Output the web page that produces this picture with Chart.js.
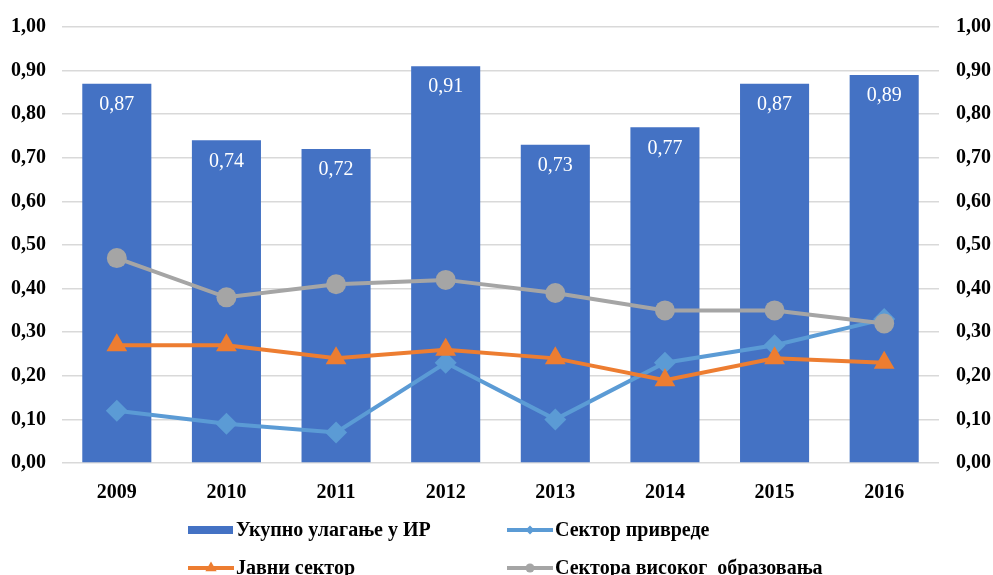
<!DOCTYPE html>
<html><head><meta charset="utf-8">
<script src="https://cdn.jsdelivr.net/npm/chart.js@4/dist/chart.umd.min.js"></script>
<style>html,body{margin:0;padding:0;background:#fff}#wrap{width:993px;height:575px;position:relative;overflow:hidden}</style>
</head><body><div id="wrap"><canvas id="c" width="993" height="575"></canvas></div>
<script>
const categories = ['2009','2010','2011','2012','2013','2014','2015','2016'];
const totalRD = [0.87,0.74,0.72,0.91,0.73,0.77,0.87,0.89];
const businessSector = [0.12,0.09,0.07,0.23,0.10,0.23,0.27,0.33];
const publicSector = [0.27,0.27,0.24,0.26,0.24,0.19,0.24,0.23];
const higherEducation = [0.47,0.38,0.41,0.42,0.39,0.35,0.35,0.32];
const seriesLabels = ['Укупно улагање у ИР','Сектор привреде','Јавни сектор','Сектора високог  образовања'];
const yMin = 0, yMax = 1, yStep = 0.1;

const fmt = v => Number(v).toFixed(2).replace('.', ',');
const FONT = 'Liberation Serif';

const barLabels = {
  id: 'barLabels',
  afterDatasetsDraw(chart) {
    const meta = chart.getDatasetMeta(0);
    const ctx = chart.ctx;
    ctx.save();
    ctx.fillStyle = '#ffffff';
    ctx.font = '20px "' + FONT + '"';
    ctx.textAlign = 'center';
    ctx.textBaseline = 'middle';
    meta.data.forEach((el, i) => {
      ctx.fillText(fmt(chart.data.datasets[0].data[i]), el.x, el.y + 21);
    });
    ctx.restore();
  }
};

const customLegend = {
  id: 'customLegend',
  afterDraw(chart) {
    const ctx = chart.ctx;
    const slots = [{x:188,y:530},{x:507,y:530},{x:188,y:568},{x:507,y:568}];
    ctx.save();
    ctx.font = 'bold 20px "' + FONT + '"';
    ctx.textBaseline = 'middle';
    ctx.textAlign = 'left';
    chart.data.datasets.forEach((ds, i) => {
      const s = slots[i];
      if (ds.type === 'bar') {
        ctx.fillStyle = ds.backgroundColor;
        ctx.fillRect(s.x, s.y - 4, 45, 8);
      } else {
        ctx.strokeStyle = ds.borderColor;
        ctx.lineWidth = 4;
        ctx.beginPath();
        ctx.moveTo(s.x, s.y); ctx.lineTo(s.x + 46, s.y); ctx.stroke();
        ctx.fillStyle = ds.borderColor;
        const r = ds.pointStyle === 'triangle' ? 6.5 : 4.5;
        Chart.helpers.drawPoint(ctx, {pointStyle: ds.pointStyle, radius: r, borderWidth: 0}, s.x + 23, s.y);
      }
      ctx.fillStyle = '#000';
      ctx.fillText(ds.label, s.x + 48, s.y + 1);
    });
    ctx.restore();
  }
};

const tickFont = {family: FONT, size: 20, weight: 'bold'};
const yTickFont = {family: FONT, size: 20, weight: 'bold', lineHeight: 1};

new Chart(document.getElementById('c'), {
  data: {
    labels: categories,
    datasets: [
      {type:'bar', label: seriesLabels[0], data: totalRD, backgroundColor:'#4472C4', borderWidth:0,
       barPercentage:0.63, categoryPercentage:1, order:4, yAxisID:'y'},
      {type:'line', label: seriesLabels[1], data: businessSector, borderColor:'#5B9BD5', backgroundColor:'#5B9BD5',
       borderWidth:4, pointStyle:'rectRot', pointRadius:11, pointBorderWidth:0, pointBackgroundColor:'#5B9BD5', order:3, yAxisID:'y'},
      {type:'line', label: seriesLabels[2], data: publicSector, borderColor:'#ED7D31', backgroundColor:'#ED7D31',
       borderWidth:4, pointStyle:'triangle', pointRadius:12, pointBorderWidth:0, pointBackgroundColor:'#ED7D31', order:2, yAxisID:'y'},
      {type:'line', label: seriesLabels[3], data: higherEducation, borderColor:'#A5A5A5', backgroundColor:'#A5A5A5',
       borderWidth:4, pointStyle:'circle', pointRadius:10, pointBorderWidth:0, pointBackgroundColor:'#A5A5A5', order:1, yAxisID:'y'}
    ]
  },
  options: {
    responsive:false, animation:false, devicePixelRatio:1,
    layout:{padding:{top:24,left:0,right:0,bottom:0}},
    plugins:{legend:{display:false}, tooltip:{enabled:false}},
    scales:{
      x:{grid:{display:false}, border:{display:false},
         ticks:{font:tickFont, color:'#000', padding:10},
         afterFit(s){ s.height = 112; }},
      y:{position:'left', min:yMin, max:yMax,
         grid:{color:'#d9d9d9', lineWidth:1.5, drawTicks:false}, border:{display:false},
         ticks:{stepSize:yStep, font:yTickFont, color:'#000', padding:16, callback:v=>fmt(v)},
         afterFit(s){ s.width = 62; }},
      y1:{position:'right', min:yMin, max:yMax,
         grid:{display:false, drawTicks:false}, border:{display:false},
         ticks:{stepSize:yStep, font:yTickFont, color:'#000', padding:17, callback:v=>fmt(v)},
         afterFit(s){ s.width = 54; }}
    }
  },
  plugins:[barLabels, customLegend]
});
</script></body></html>
